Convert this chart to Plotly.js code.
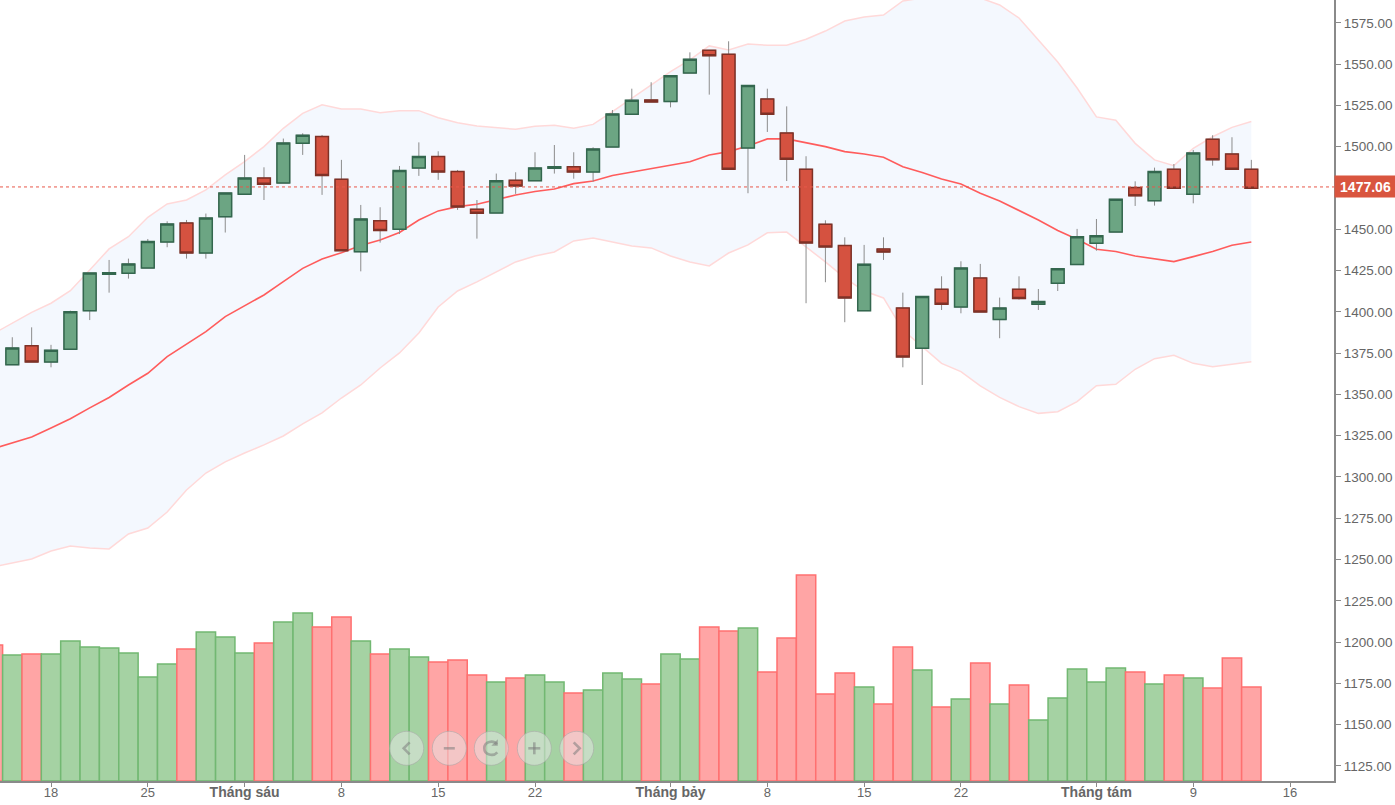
<!DOCTYPE html>
<html><head><meta charset="utf-8">
<script src="https://cdn.plot.ly/plotly-3.0.1.min.js"></script>
<style>html,body{margin:0;padding:0;background:#fff;overflow:hidden}</style>
</head><body><div id="chart" style="width:1395px;height:805px"></div>
<script>
const opens=[1368,1379.5,1369.6,1377.3,1400.7,1422.7,1423.3,1426.5,1442.3,1453.8,1435.6,1457.6,1471.2,1481,1478,1502,1506.1,1480.2,1436.4,1455.2,1450,1487,1494,1484.9,1462.1,1459.9,1479.6,1479.4,1486.9,1487.9,1484.7,1499.8,1519.6,1528.3,1527.3,1544.6,1558.3,1555.9,1499.2,1528.9,1508.3,1486.3,1453,1440.1,1400.7,1438,1402.3,1377.9,1413.6,1402.9,1420.5,1395.3,1413.6,1404.6,1417.3,1428.6,1441.5,1448.3,1475.2,1467.3,1486.3,1471.2,1504.5,1495.6,1486.3];
const highs=[1384.6,1390.6,1380,1400.7,1423.5,1431.4,1432.2,1444.1,1454.8,1455.6,1459.5,1472,1495,1487.5,1504.9,1508.1,1507.1,1492,1464.7,1463.3,1488.3,1502.6,1497.2,1485.9,1467.7,1483.7,1484.5,1496.6,1501,1496.6,1499.6,1522.2,1535.1,1539,1543,1557.1,1558.3,1563.8,1537,1535.1,1524.4,1494.2,1455.4,1445.1,1440.5,1445.1,1411.6,1409.2,1421.5,1430.6,1429,1408.6,1421.5,1413.8,1426,1450.2,1456.2,1468.1,1479,1487.3,1489.5,1498,1506.9,1505.7,1492];
const lows=[1368,1369.6,1366.4,1377.3,1395,1411.6,1420.1,1426.5,1439.1,1432.2,1432.2,1448,1471.2,1467.7,1478,1495,1470.8,1437,1424.5,1441.9,1447.1,1482.3,1479.9,1461.7,1444.3,1459.9,1471.4,1479.4,1483.7,1480.6,1478.8,1499.8,1519.6,1527,1523.8,1544.6,1531.5,1486.3,1471.8,1508.9,1479.2,1405.2,1417.9,1393.7,1400.7,1431.4,1366.4,1355.7,1401.1,1399.1,1399.9,1384,1407.4,1401.1,1412.6,1428.6,1437,1448.3,1464.1,1464.3,1474.8,1465.7,1488.5,1486.3,1474.8];
const closes=[1378.1,1369.6,1376.7,1400.1,1423.5,1423.7,1429,1442.5,1453.2,1435.6,1456.8,1472,1481,1477.2,1502.2,1506.9,1482.5,1437,1456.2,1449.2,1485.5,1494,1484.7,1463.5,1459.7,1479.4,1476.2,1487.1,1487.9,1484.7,1498.6,1519.8,1528.1,1527.1,1543,1552.9,1555.1,1486.3,1537,1519.6,1492.3,1441.7,1439.3,1408.4,1428.8,1436.2,1372.7,1409.2,1404.6,1426.5,1399.9,1402.3,1408,1406.2,1426,1445.5,1446.1,1468.1,1470.2,1484.9,1474.8,1496.2,1492.1,1486.3,1474.8];

// Bands start one session earlier than the visible candles
const bandUpper=[1386.6,1393.4,1399.7,1405.2,1412.8,1425.3,1438.1,1445.5,1457.2,1465.3,1467.7,1473.8,1482.9,1491,1500,1511.1,1520.2,1525.3,1522.8,1522.8,1520.6,1521.8,1521.8,1517.5,1514.5,1512.5,1511.7,1510.5,1512.3,1512.9,1511.1,1513.5,1521.2,1529.3,1537.4,1545.4,1552.5,1561,1558.6,1562.2,1561.4,1561.4,1565,1570,1576.1,1578.5,1579.7,1588.2,1590,1591,1591,1590,1585.8,1577.9,1564.6,1551.3,1535.5,1518,1516,1502,1492,1488.5,1499,1506,1511.7,1515.2];
const bandMiddle=[1317,1320.6,1324.2,1329.7,1335.2,1341.8,1348.1,1355.7,1362.8,1372.9,1380.3,1388,1397.1,1403.7,1410.2,1418.3,1426.3,1432,1435.8,1440.1,1443.5,1448,1455.6,1461.1,1463.7,1465.1,1467.7,1470.7,1472.8,1474.4,1477.6,1479.2,1482.5,1484.5,1486.5,1488.7,1490.9,1495,1497,1500.4,1504.7,1504.7,1502.4,1500,1497,1495.6,1493.6,1487.9,1484.3,1480.4,1477.4,1471.8,1467.1,1461.3,1455.6,1449.2,1443.9,1437.9,1436.5,1433.8,1432.2,1430.4,1433.4,1436.5,1440.3,1442.3];
const bandLower=[1245.5,1247.9,1250.3,1255.2,1258.2,1257,1256.4,1265.5,1269.1,1278.8,1292.1,1302.4,1309.1,1314.5,1319.4,1324.8,1332.1,1338.8,1347.8,1355.7,1366,1375.1,1387.2,1402.9,1412.6,1418.1,1424.1,1430.2,1433.8,1436.2,1442.9,1444.7,1442.3,1439.9,1438.7,1433.8,1430.2,1427.8,1435.6,1440.5,1447.8,1448.3,1439.3,1430.2,1420.5,1412.6,1408.4,1389,1378.9,1368.8,1363.8,1355.1,1348.2,1342.6,1338.5,1339.5,1345.6,1355.3,1356.1,1365.2,1371.6,1373.7,1368.8,1366.8,1368.2,1369.8];

// Volume in millions, also starting one session earlier
const volumes=[1.36,1.26,1.27,1.27,1.40,1.34,1.33,1.28,1.04,1.17,1.32,1.49,1.44,1.28,1.38,1.59,1.68,1.54,1.64,1.40,1.27,1.32,1.24,1.19,1.21,1.06,0.99,1.03,1.06,0.99,0.88,0.91,1.08,1.02,0.97,1.27,1.22,1.54,1.50,1.53,1.09,1.43,2.06,0.87,1.08,0.94,0.77,1.34,1.11,0.74,0.82,1.18,0.77,0.96,0.61,0.83,1.12,0.99,1.13,1.09,0.97,1.06,1.03,0.93,1.23,0.94];

const monthStyle=s=>'<b><span style="font-size:14px">'+s+'</span></b>';
const xTickIndex=[2,7,12,17,22,27,34,39,44,49,56,61,66];
const xTickLabels=['18','25',monthStyle('Tháng sáu'),'8','15','22',monthStyle('Tháng bảy'),'8','15','22',monthStyle('Tháng tám'),'9','16'];
const yTickValues=[1125,1150,1175,1200,1225,1250,1275,1300,1325,1350,1375,1400,1425,1450,1500,1525,1550,1575];
const lastPriceText='1477.06';
const lastPriceLevel=1475.6;

const candleX=opens.map((_,i)=>i);
const bandX=bandUpper.map((_,i)=>i-1);
const Y_RANGE=[1115.9,1588.8];
const RED='#d55240',GREEN='#6ca583';

const wickTrace={type:'candlestick',x:candleX,open:opens,high:highs,low:lows,close:closes,yaxis:'y2',
  increasing:{line:{color:'#8c8c8c',width:1},fillcolor:GREEN},
  decreasing:{line:{color:'#8c8c8c',width:1},fillcolor:RED},hoverinfo:'skip',showlegend:false};
const bodyTrace={type:'candlestick',x:candleX,open:opens,close:closes,
  high:opens.map((o,i)=>Math.max(o,closes[i])),low:opens.map((o,i)=>Math.min(o,closes[i])),yaxis:'y2',
  increasing:{line:{color:'#33674e',width:1.5},fillcolor:GREEN},
  decreasing:{line:{color:'#7f3126',width:1.5},fillcolor:RED},hoverinfo:'skip',showlegend:false};

const isUp=volumes.map((_,i)=>i>0&&closes[i-1]>=opens[i-1]);
const volTrace={type:'bar',x:bandX,y:volumes,yaxis:'y3',width:1,
  marker:{color:isUp.map(u=>u?'#a5d2a3':'#ffa5a5'),line:{color:isUp.map(u=>u?'#72b872':'#ff7070'),width:1.5}},
  hoverinfo:'skip',showlegend:false};

const lowerTrace={type:'scatter',mode:'lines',x:bandX,y:bandLower,line:{color:'#ffd9d9',width:1.5},hoverinfo:'skip',showlegend:false};
const upperTrace={type:'scatter',mode:'lines',x:bandX,y:bandUpper,fill:'tonexty',fillcolor:'#f4f8fe',line:{color:'#ffd9d9',width:1.5},hoverinfo:'skip',showlegend:false};
const midTrace={type:'scatter',mode:'lines',x:bandX,y:bandMiddle,line:{color:'#ff5c5c',width:1.6},hoverinfo:'skip',showlegend:false};

const PW=1334,PH=781;
const px=x=>(x/PW).toFixed(5),py=y=>(1-y/PH).toFixed(5);
const navX=[406.7,449.3,491.3,534.3,576.7],navY=748.3,navR=17;
const glyphColor='rgba(125,125,125,0.55)';
const glyphStyle={color:glyphColor,width:2.6};
const shapes=[{type:'line',xref:'paper',x0:0,x1:1,yref:'y',y0:lastPriceLevel,y1:lastPriceLevel,line:{color:'#e8584a',width:1,dash:'dot'},layer:'above'}];
navX.forEach(cx=>shapes.push({type:'circle',xref:'paper',yref:'paper',x0:(cx-navR)/PW,x1:(cx+navR)/PW,y0:1-(navY+navR)/PH,y1:1-(navY-navR)/PH,
  fillcolor:'rgba(232,232,232,0.5)',line:{color:'rgba(165,165,165,0.55)',width:1},layer:'above'}));
const glyphPaths=[
  [[3,-6],[-3,0],[3,6]],
  [[-5.5,0],[5.5,0]],
  null,
  [[-6,0],[6,0]],
  [[-3,-6],[3,0],[-3,6]]
];
glyphPaths.forEach((pts,i)=>{
  const cx=navX[i];
  if(pts){
    const d=pts.map((p,k)=>(k?'L':'M')+px(cx+p[0])+','+py(navY+p[1])).join(' ');
    shapes.push({type:'path',xref:'paper',yref:'paper',path:d,line:glyphStyle,layer:'above'});
  }
});
// plus: vertical stroke
shapes.push({type:'path',xref:'paper',yref:'paper',path:'M'+px(navX[3])+','+py(navY-6)+' L'+px(navX[3])+','+py(navY+6),line:glyphStyle,layer:'above'});
// refresh: open ring with a small arrow head
const c=navX[2];
shapes.push({type:'path',xref:'paper',yref:'paper',
  path:'M'+px(c+5.5)+','+py(navY-4)+' C'+px(c+2)+','+py(navY-8.5)+' '+px(c-7)+','+py(navY-7)+' '+px(c-7)+','+py(navY)+' C'+px(c-7)+','+py(navY+7)+' '+px(c+2)+','+py(navY+8.5)+' '+px(c+6)+','+py(navY+4),
  line:glyphStyle,layer:'above'});
shapes.push({type:'path',xref:'paper',yref:'paper',
  path:'M'+px(c+6.5)+','+py(navY-9)+' L'+px(c+6.5)+','+py(navY-2.5)+' L'+px(c)+','+py(navY-2.5)+' Z',
  fillcolor:glyphColor,line:{width:0},layer:'above'});

const annotations=[{xref:'paper',x:1,xanchor:'left',yref:'y',y:lastPriceLevel,yanchor:'middle',text:'<b>'+lastPriceText+'</b>',showarrow:false,
  font:{family:'Liberation Sans',size:14,color:'#fff'},bgcolor:'#d9553f',width:59,height:19,borderpad:1,align:'center'}];

const layout={width:1395,height:805,margin:{l:0,r:61,t:0,b:24,pad:0},paper_bgcolor:'#fff',plot_bgcolor:'#fff',
  hovermode:false,dragmode:false,showlegend:false,boxmode:'overlay',boxgap:0.34,boxgroupgap:0,bargap:0,
  font:{family:'Liberation Sans',size:13,color:'#666'},
  xaxis:{type:'linear',range:[-0.635,68.27],rangeslider:{visible:false},showgrid:false,zeroline:false,showline:true,linecolor:'#8a8a8a',linewidth:2,
    ticks:'outside',ticklen:4,tickcolor:'#8a8a8a',tickwidth:1,tickmode:'array',tickvals:xTickIndex,ticktext:xTickLabels,ticklabelstandoff:-6,tickfont:{size:13,color:'#666'}},
  yaxis:{range:Y_RANGE,side:'right',showgrid:false,zeroline:false,showline:true,linecolor:'#8a8a8a',linewidth:2,
    ticks:'outside',ticklen:5,tickcolor:'#8a8a8a',tickwidth:1,tickmode:'array',tickvals:yTickValues,tickformat:'.2f',tickfont:{size:13.5,color:'#666'}},
  yaxis2:{range:Y_RANGE,overlaying:'y',side:'right',visible:false},
  yaxis3:{range:[0,7.81],overlaying:'y',side:'left',visible:false},
  shapes,annotations};
Plotly.newPlot('chart',[lowerTrace,upperTrace,midTrace,volTrace,wickTrace,bodyTrace],layout,{displayModeBar:false,staticPlot:true});
</script></body></html>
